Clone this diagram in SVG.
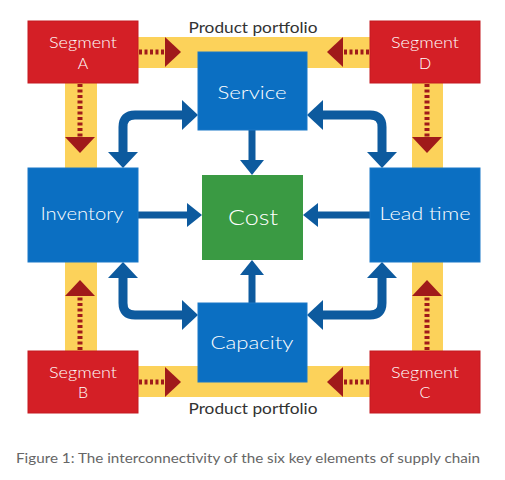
<svg xmlns="http://www.w3.org/2000/svg" width="505" height="480" viewBox="0 0 505 480">
<style>
.band{fill:#fcd25a}
.seg{fill:#d41f26;stroke:#c41a20;stroke-width:1}
.blue{fill:#0b6fc2;stroke:#1a78c8;stroke-width:1}
.green{fill:#3a9a43}
.wt{fill:#fff;font-family:Lato,"Liberation Sans",sans-serif;font-weight:300;text-anchor:middle}
.lbl{fill:#333;font-family:Lato,"Liberation Sans",sans-serif;font-size:16px;text-anchor:middle}
.cap{fill:#666;font-family:Lato,"Liberation Sans",sans-serif;font-size:14px}
.barrow{fill:none;stroke:#0d5a9e;stroke-width:9}
.sarrow{fill:none;stroke:#0d5a9e;stroke-width:7}
.rarrow{fill:none;stroke:#a01a1a;stroke-width:5;stroke-dasharray:3 2.5}
</style>
<defs>
<marker id="hb" viewBox="0 0 16 30" refX="0" refY="15" markerWidth="16" markerHeight="30" markerUnits="userSpaceOnUse" orient="auto-start-reverse"><path d="M0 0L16 15L0 30z" fill="#0d5a9e"/></marker>
<marker id="hs" viewBox="0 0 15 24" refX="0" refY="12" markerWidth="15" markerHeight="24" markerUnits="userSpaceOnUse" orient="auto"><path d="M0 0L15 12L0 24z" fill="#0d5a9e"/></marker>
<marker id="hr" viewBox="0 0 16 30" refX="0" refY="15" markerWidth="16" markerHeight="30" markerUnits="userSpaceOnUse" orient="auto"><path d="M0 0L16 15L0 30z" fill="#a01a1a"/></marker>
</defs>
<rect width="505" height="480" fill="#fff"/>
<g id="bands">
<rect class="band" x="138" y="37" width="232" height="31"/>
<rect class="band" x="138" y="366" width="232" height="31"/>
<rect class="band" x="65" y="83" width="32" height="85"/>
<rect class="band" x="65" y="262" width="32" height="89"/>
<rect class="band" x="412" y="83" width="31" height="85"/>
<rect class="band" x="412" y="262" width="31" height="89"/>
</g>
<g id="connectors">
<path class="barrow" d="M182 115H135Q123 115 123 127V152" marker-start="url(#hb)" marker-end="url(#hb)"/>
<path class="barrow" d="M323 115H370Q382 115 382 127V152" marker-start="url(#hb)" marker-end="url(#hb)"/>
<path class="barrow" d="M182 315H135Q123 315 123 303V278" marker-start="url(#hb)" marker-end="url(#hb)"/>
<path class="barrow" d="M323 315H370Q382 315 382 303V278" marker-start="url(#hb)" marker-end="url(#hb)"/>
<path class="sarrow" d="M252 130V160" marker-end="url(#hs)"/>
<path class="sarrow" d="M138 215H187" marker-end="url(#hs)"/>
<path class="sarrow" d="M370 215H318" marker-end="url(#hs)"/>
<path class="sarrow" d="M252 303V275" marker-end="url(#hs)"/>
<path class="rarrow" d="M139 52H165" marker-end="url(#hr)"/>
<path class="rarrow" d="M80 84V137" marker-end="url(#hr)"/>
<path class="rarrow" d="M369 52H343" marker-end="url(#hr)"/>
<path class="rarrow" d="M427 84V137" marker-end="url(#hr)"/>
<path class="rarrow" d="M80 350V296" marker-end="url(#hr)"/>
<path class="rarrow" d="M139 382H165" marker-end="url(#hr)"/>
<path class="rarrow" d="M427 350V296" marker-end="url(#hr)"/>
<path class="rarrow" d="M369 382H343" marker-end="url(#hr)"/>
</g>
<g id="segA"><rect class="seg" x="28" y="21" width="110" height="62"/><text class="wt" x="83" y="48" font-size="16" textLength="68" lengthAdjust="spacingAndGlyphs">Segment</text><text class="wt" x="83" y="69" font-size="16">A</text></g>
<g id="segD"><rect class="seg" x="370" y="21" width="110" height="62"/><text class="wt" x="425" y="48" font-size="16" textLength="68" lengthAdjust="spacingAndGlyphs">Segment</text><text class="wt" x="425" y="69" font-size="16">D</text></g>
<g id="segB"><rect class="seg" x="28" y="351" width="110" height="62"/><text class="wt" x="83" y="378" font-size="16" textLength="68" lengthAdjust="spacingAndGlyphs">Segment</text><text class="wt" x="83" y="398" font-size="16">B</text></g>
<g id="segC"><rect class="seg" x="370" y="351" width="110" height="62"/><text class="wt" x="425" y="378" font-size="16" textLength="68" lengthAdjust="spacingAndGlyphs">Segment</text><text class="wt" x="425" y="398" font-size="16">C</text></g>
<g id="service"><rect class="blue" x="198" y="52" width="109" height="78"/><text class="wt" x="252" y="99" font-size="17" textLength="69" lengthAdjust="spacingAndGlyphs">Service</text></g>
<g id="inventory"><rect class="blue" x="28" y="168" width="110" height="94"/><text class="wt" x="82" y="220" font-size="17" textLength="83" lengthAdjust="spacingAndGlyphs">Inventory</text></g>
<g id="leadtime"><rect class="blue" x="370" y="168" width="110" height="94"/><text class="wt" x="425" y="220" font-size="17" textLength="91" lengthAdjust="spacingAndGlyphs">Lead time</text></g>
<g id="cost"><rect class="green" x="202" y="175" width="101" height="85"/><text class="wt" x="253" y="225" font-size="21" textLength="50" lengthAdjust="spacingAndGlyphs">Cost</text></g>
<g id="capacity"><rect class="blue" x="198" y="303" width="109" height="79"/><text class="wt" x="252" y="349" font-size="17" textLength="83" lengthAdjust="spacingAndGlyphs">Capacity</text></g>
<g id="labels">
<text class="lbl" x="253" y="33" textLength="129" lengthAdjust="spacingAndGlyphs">Product portfolio</text>
<text class="lbl" x="253" y="414" textLength="129" lengthAdjust="spacingAndGlyphs">Product portfolio</text>
<text class="cap" x="16" y="463" textLength="464" lengthAdjust="spacingAndGlyphs">Figure 1: The interconnectivity of the six key elements of supply chain</text>
</g>
</svg>
